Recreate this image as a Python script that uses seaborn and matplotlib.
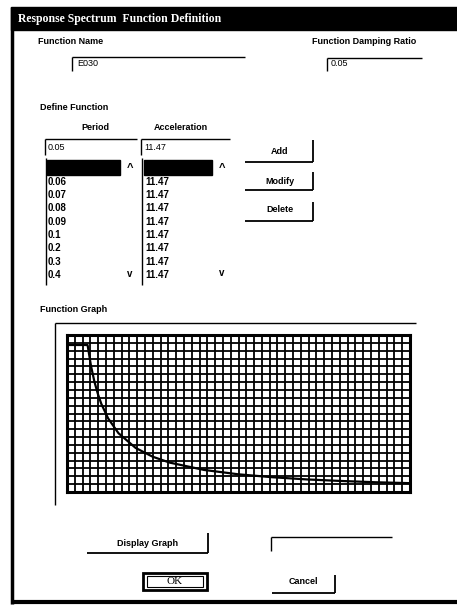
import numpy as np
import matplotlib
matplotlib.use("Agg")
import matplotlib.pyplot as plt
import seaborn as sns
import pandas as pd
from matplotlib.patches import Rectangle

# ---- data ----
periods = [0.05, 0.06, 0.07, 0.08, 0.09, 0.1, 0.2, 0.3, 0.4, 0.5, 0.6, 0.7, 0.8, 0.9,
           1.0, 1.2, 1.5, 2.0, 2.5, 3.0, 4.0, 5.0, 6.0, 7.0, 8.0, 9.0, 10.0]
accels = [11.47, 11.47, 11.47, 11.47, 11.47, 11.47, 11.47, 11.47, 11.47, 11.47, 11.47,
          9.83, 8.60, 7.65, 6.88, 5.74, 4.59, 3.44, 2.75, 2.29, 1.72, 1.38, 1.15,
          0.98, 0.86, 0.76, 0.69]
list_periods = ["0.06", "0.07", "0.08", "0.09", "0.1", "0.2", "0.3", "0.4"]
list_accels = ["11.47"] * 8
function_name = "E030"
damping_ratio = "0.05"
edit_period = "0.05"
edit_accel = "11.47"

W, H = 457, 612
sns.set_theme(style="white")
plt.rcParams["font.family"] = ["Liberation Sans", "DejaVu Sans"]

fig = plt.figure(figsize=(W / 100, H / 100), dpi=100)
fig.patch.set_facecolor("white")
bg = fig.add_axes([0, 0, 1, 1])
bg.set_xlim(0, W)
bg.set_ylim(H, 0)
bg.axis("off")

FS = 6.5
def txt(x, y, s, ha="left", color="black", size=FS, weight="bold", family=None):
    kw = {}
    if family:
        kw["family"] = family
    bg.text(x, y, s, ha=ha, va="center", color=color, fontsize=size, fontweight=weight, **kw)

def line(xs, ys, lw=1.0):
    bg.plot(xs, ys, color="black", lw=lw, solid_capstyle="butt")

# window frame
bg.add_patch(Rectangle((11, 7), W - 11, 23, color="black"))
line([12, 12], [7, 604], lw=2.5)
line([11, W], [602, 602], lw=3)
txt(18, 19, "Response Spectrum  Function Definition", color="white", size=8.5,
    family=["Liberation Serif"])

# function name / damping
txt(38, 42, "Function Name")
line([72, 245], [57, 57]); line([72, 72], [57, 71])
txt(77, 64, function_name, weight="normal")
txt(312, 42, "Function Damping Ratio")
line([327, 422], [58, 58]); line([327, 327], [58, 71])
txt(331, 64, damping_ratio, weight="normal")

# define function
txt(40, 107, "Define Function")
txt(95, 128, "Period", ha="center")
txt(181, 128, "Acceleration", ha="center")
line([45, 137], [139, 139]); line([45, 45], [139, 155])
txt(48, 147, edit_period, weight="normal")
line([141, 230], [139, 139]); line([141, 141], [139, 155])
txt(144, 147, edit_accel, weight="normal")

# list boxes
line([46, 46], [158, 285]); line([142, 142], [158, 285])
bg.add_patch(Rectangle((47, 160), 73, 15, color="black"))
bg.add_patch(Rectangle((144, 160), 68, 15, color="black"))
txt(130, 168, "^", ha="center", size=8)
txt(222, 168, "^", ha="center", size=8)
txt(130, 274, "v", ha="center", size=7)
txt(222, 273, "v", ha="center", size=7)
ys = [182, 195, 208, 222, 235, 248, 262, 275]
for yy, p, a in zip(ys, list_periods, list_accels):
    txt(48, yy, p, size=7)
    txt(145, yy, a, size=7)

# buttons
for label, yc, ybot, ytop in [("Add", 152, 162, 140), ("Modify", 182, 190, 172),
                               ("Delete", 210, 221, 202)]:
    txt(280, yc, label, ha="center")
    line([245, 313], [ybot, ybot], lw=1.3); line([313, 313], [ytop, ybot], lw=1.3)

# function graph frame
txt(40, 310, "Function Graph")
line([55, 416], [323, 323]); line([55, 55], [323, 505])

# bottom controls
txt(148, 543, "Display Graph", ha="center")
line([87, 208], [553, 553], lw=1.3); line([208, 208], [533, 553], lw=1.3)
line([271, 392], [537, 537]); line([271, 271], [537, 551])
bg.add_patch(Rectangle((143, 573), 64, 17, fill=False, ec="black", lw=2))
bg.add_patch(Rectangle((147, 576), 56, 11, fill=False, ec="black", lw=0.8))
txt(175, 581.5, "OK", ha="center", weight="normal", size=8, family=["Liberation Serif"])
txt(303, 582, "Cancel", ha="center")
line([272, 335], [593, 593], lw=1.3); line([335, 335], [575, 593], lw=1.3)

# ---- the graph ----
gx0, gx1, gy0, gy1 = 67, 410, 335, 492
ax = fig.add_axes([gx0 / W, (H - gy1) / H, (gx1 - gx0) / W, (gy1 - gy0) / H])
df = pd.DataFrame({"Period": periods, "Acceleration": accels})
sns.lineplot(data=df, x="Period", y="Acceleration", ax=ax, color="black", lw=1.6)
ax.set_xlim(0, 10)
ax.set_ylim(0, 12.25)
ax.set_xticks(np.linspace(0, 10, 45))
ax.set_yticks(np.linspace(0, 12.25, 21))
ax.tick_params(length=0, labelbottom=False, labelleft=False)
ax.set_xlabel("")
ax.set_ylabel("")
ax.grid(True, color="black", lw=1.3)
ax.set_axisbelow(True)
ax.set_facecolor("white")
for s in ax.spines.values():
    s.set_visible(True)
    s.set_color("black")
    s.set_linewidth(2.2)

fig.savefig("out.png", dpi=100, facecolor="white")
